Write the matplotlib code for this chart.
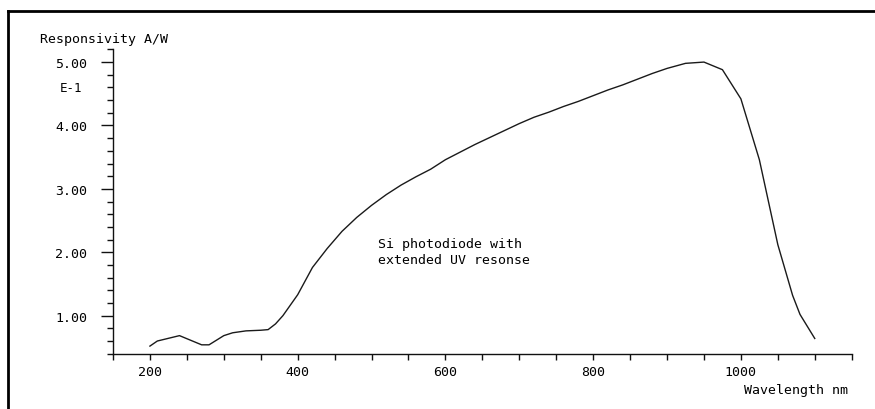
import matplotlib
matplotlib.use('Agg')
import matplotlib.pyplot as plt
from matplotlib.ticker import MultipleLocator, FixedLocator
from matplotlib.lines import Line2D

# responsivity curve (values in units of E-1 A/W)
wavelength = [200, 210, 240, 270, 280, 300, 312, 330, 350, 360, 370, 380,
              400, 420, 440, 460, 480, 500, 520, 540, 560, 580, 600, 620,
              640, 660, 680, 700, 720, 740, 760, 780, 800, 820, 840, 860,
              880, 900, 925, 950, 975, 1000, 1025, 1050, 1070, 1080, 1100]
responsivity = [0.52, 0.60, 0.685, 0.54, 0.54, 0.685, 0.73, 0.76, 0.77, 0.78, 0.87, 1.00,
                1.33, 1.76, 2.06, 2.33, 2.55, 2.74, 2.91, 3.06, 3.19, 3.31, 3.46, 3.58,
                3.70, 3.81, 3.92, 4.03, 4.13, 4.21, 4.30, 4.38, 4.47, 4.56, 4.64, 4.73,
                4.82, 4.90, 4.98, 5.00, 4.88, 4.42, 3.46, 2.12, 1.32, 1.02, 0.64]

x_ticks = [200, 400, 600, 800, 1000]
y_ticks = [1.0, 2.0, 3.0, 4.0, 5.0]
y_tick_labels = ['1.00', '2.00', '3.00', '4.00', '5.00']

font = 'DejaVu Sans Mono'
fs = 9.5

fig = plt.figure(figsize=(8.75, 4.1), dpi=100, facecolor='white')
ax = fig.add_axes([113 / 875, 1 - 354.7 / 410, (851.7 - 113) / 875, (354.7 - 50.4) / 410])

ax.plot(wavelength, responsivity, color='#1a1a1a', linewidth=1.0)

ax.set_xlim(150, 1150)
ax.set_ylim(0.4, 5.2)

for side in ['top', 'right']:
    ax.spines[side].set_visible(False)
for side in ['left', 'bottom']:
    ax.spines[side].set_linewidth(1.0)
    ax.spines[side].set_color('#111111')

ax.xaxis.set_major_locator(FixedLocator(x_ticks))
ax.xaxis.set_minor_locator(MultipleLocator(50))
ax.yaxis.set_major_locator(FixedLocator(y_ticks))
ax.yaxis.set_minor_locator(MultipleLocator(0.2))
ax.set_xticklabels([str(v) for v in x_ticks])
ax.set_yticklabels(y_tick_labels)

ax.tick_params(axis='x', which='both', direction='out', length=4, width=1.0,
               pad=4, labelsize=fs, color='#111111')
ax.tick_params(axis='y', which='major', direction='out', length=8.5, width=1.0,
               pad=10, labelsize=fs, color='#111111')
ax.tick_params(axis='y', which='minor', direction='out', length=4.5, width=1.0, color='#111111')
for lbl in ax.get_xticklabels() + ax.get_yticklabels():
    lbl.set_family(font)

# labels placed like the plotter output
fig.text(40 / 875, 1 - 39 / 410, 'Responsivity A/W', family=font, fontsize=fs,
         ha='left', va='center')
fig.text(71 / 875, 1 - 88 / 410, 'E-1', family=font, fontsize=fs - 0.5,
         ha='center', va='center')
fig.text(848 / 875, 1 - 391 / 410, 'Wavelength nm', family=font, fontsize=fs,
         ha='right', va='center')
fig.text(378 / 875, 1 - 245 / 410, 'Si photodiode with', family=font, fontsize=fs,
         ha='left', va='center')
fig.text(378 / 875, 1 - 261 / 410, 'extended UV resonse', family=font, fontsize=fs,
         ha='left', va='center')

# outer frame (only top and left edges visible)
fig.add_artist(Line2D([8 / 875, 1.0], [1 - 12 / 410, 1 - 12 / 410],
                      transform=fig.transFigure, color='black', linewidth=2))
fig.add_artist(Line2D([8 / 875, 8 / 875], [0.0, 1 - 12 / 410],
                      transform=fig.transFigure, color='black', linewidth=2))

fig.savefig('out.png', dpi=100, facecolor=fig.get_facecolor())
plt.close(fig)
